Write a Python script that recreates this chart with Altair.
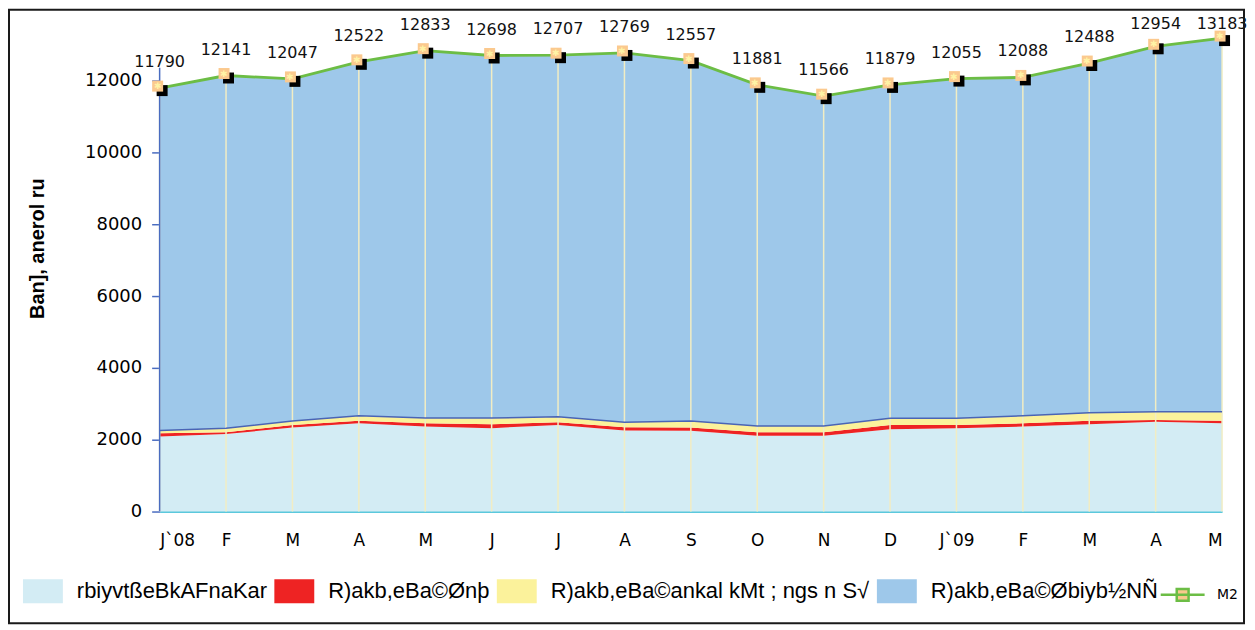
import json
import altair as alt
import pandas as pd

# ---------------- data ----------------
months = ["J`08", "F", "M", "A", "M", "J", "J", "A", "S", "O", "N", "D",
          "J`09", "F", "M", "A", "M"]
m2 = [11790, 12141, 12047, 12522, 12833, 12698, 12707, 12769, 12557,
      11881, 11566, 11879, 12055, 12088, 12488, 12954, 13183]
currency = [2090, 2156, 2337, 2458, 2365, 2321, 2412, 2255, 2247,
            2109, 2109, 2293, 2321, 2365, 2431, 2502, 2458]
demand = [93, 55, 70, 72, 93, 110, 74, 93, 92,
          102, 102, 119, 91, 93, 99, 47, 72]
time_dep = [72, 110, 114, 137, 146, 173, 154, 138, 182,
            173, 173, 183, 183, 209, 220, 228, 247]
foreign = [9535, 9820, 9526, 9855, 10229, 10094, 10067, 10283, 10036,
           9497, 9182, 9284, 9460, 9421, 9738, 10177, 10406]
series_names = ["rbiyvtßeBkAFnaKar", "R)akb,eBa©Ønþ",
                "R)akb,eBa©ankal kMt ; ngs n S√",
                "R)akb,eBa©Øbiyb½NÑ"]
line_name = "M2"
y_title = "Ban], anerol ru"
y_ticks = [0, 2000, 4000, 6000, 8000, 10000, 12000]

series_colors = ["#D3ECF4", "#EE2323", "#FBF29B", "#9EC8EA"]
LEGF = "Liberation Sans"
NUMF = "DejaVu Sans"

# ---------------- tables ----------------
idx = list(range(len(months)))
rows = []
for k, (name, vals) in enumerate(zip(series_names, [currency, demand, time_dep, foreign])):
    for i, v in zip(idx, vals):
        rows.append({"i": i, "series": name, "value": v, "ord": k})
long_df = pd.DataFrame(rows)

wide_df = pd.DataFrame({
    "i": idx,
    "m2": m2,
    "inner": [a + b + c for a, b, c in zip(currency, demand, time_dep)],
    "s": [line_name] * len(idx),
})

label_expr = json.dumps(months) + "[datum.value]"

x_axis = alt.Axis(title=None, values=idx, labelExpr=label_expr, labelAngle=0,
                  ticks=False, grid=False, domainColor="#5BC8DC", domainWidth=2,
                  labelFont=NUMF, labelFontSize=17, labelColor="black",
                  labelPadding=29, labelBaseline="middle")
x_scale = alt.Scale(domain=[0, len(months) - 1], nice=False, zero=False)
y_scale = alt.Scale(domain=[0, 14000], nice=False)
y_axis = alt.Axis(values=y_ticks, format="d", grid=False, domain=False,
                  tickColor="#4A6CC0", tickSize=8, tickWidth=1.5,
                  labelFont=NUMF, labelFontSize=18, labelColor="black",
                  labelPadding=10, title=y_title,
                  titleFont=LEGF, titleFontSize=20, titleFontWeight="bold",
                  titleX=-122, titleY=240, titleAngle=270,
                  titleAlign="center", titleBaseline="middle", titleColor="black")

color_legend = alt.Legend(
    orient="none", legendX=-137, legendY=564, direction="horizontal", columns=4,
    gridAlign="none", columnPadding=7, title=None, padding=0,
    symbolType="M-1,-0.6H1V0.6H-1Z", symbolSize=1600, symbolOpacity=1,
    symbolStrokeWidth=0,
    labelFont=LEGF, labelFontSize=22, labelOffset=14, labelColor="black",
    labelLimit=600,
)

areas = alt.Chart(long_df).mark_area(opacity=1).encode(
    x=alt.X("i:Q", scale=x_scale, axis=x_axis),
    y=alt.Y("value:Q", stack="zero", scale=y_scale, axis=y_axis),
    color=alt.Color("series:N", sort=series_names,
                    scale=alt.Scale(domain=series_names, range=series_colors),
                    legend=color_legend),
    order=alt.Order("ord:Q"),
)

base = alt.Chart(wide_df)

drops = base.mark_rule(color="#F1EDC4", strokeWidth=1.5).encode(
    x="i:Q", y=alt.Y("m2:Q"), y2=alt.datum(0))

inner_line = base.mark_line(color="#4A64B5", strokeWidth=1.5).encode(
    x="i:Q", y="inner:Q")

y_domain = alt.Chart(alt.Data(values=[{"a": 0}])).mark_rule(
    color="#4A6CC0", strokeWidth=1.5).encode(
    x=alt.datum(0), y=alt.datum(0), y2=alt.datum(12360))

m2_line = base.mark_line(strokeWidth=2.8).encode(
    x="i:Q", y="m2:Q",
    stroke=alt.Stroke("s:N", scale=alt.Scale(domain=[line_name], range=["#6CBD45"]),
                      legend=alt.Legend(orient="none", legendX=1002, legendY=564,
                                        title=None, padding=0,
                                        symbolType="M-1,0H1M-0.27,-0.27H0.27V0.27H-0.27Z",
                                        symbolSize=1936, symbolStrokeWidth=2.5,
                                        symbolFillColor="#F9C98C",
                                        labelFont=NUMF, labelFontSize=14,
                                        labelOffset=11, labelColor="black")),
)

shadow = base.mark_square(size=121, filled=True, color="black", opacity=1,
                          xOffset=2.5, yOffset=2.5).encode(x="i:Q", y="m2:Q")
marker = base.mark_square(size=121, filled=True, color="#FBC98E", opacity=1,
                          xOffset=-2, yOffset=-2).encode(x="i:Q", y="m2:Q")
star = base.mark_text(text="✱", fontSize=9, color="#FFF3A6", dx=-2, dy=-2,
                      baseline="middle", align="center").encode(x="i:Q", y="m2:Q")
labels = base.transform_calculate(
    ly="min(datum.m2 + 722, 13570)"
).mark_text(font=NUMF, fontSize=16, color="#111",
            baseline="middle", align="center").encode(
    x="i:Q", y="ly:Q", text="m2:Q")

frame = alt.Chart(alt.Data(values=[{"a": 0}])).mark_rect(
    filled=False, stroke="#1a1a1a", strokeWidth=2).encode(
    x=alt.value(-151), x2=alt.value(1087), y=alt.value(1), y2=alt.value(616))

chart = alt.layer(
    areas, drops, inner_line, y_domain, m2_line, shadow, marker, star, labels, frame
).properties(
    width=1065, height=504,
    padding={"left": 152, "top": 0, "right": 25, "bottom": 115},
    autosize=alt.AutoSizeParams(type="none"),
    background="white",
).configure_view(stroke=None)

chart.save("out.html", embed_options={"renderer": "svg", "actions": False})
